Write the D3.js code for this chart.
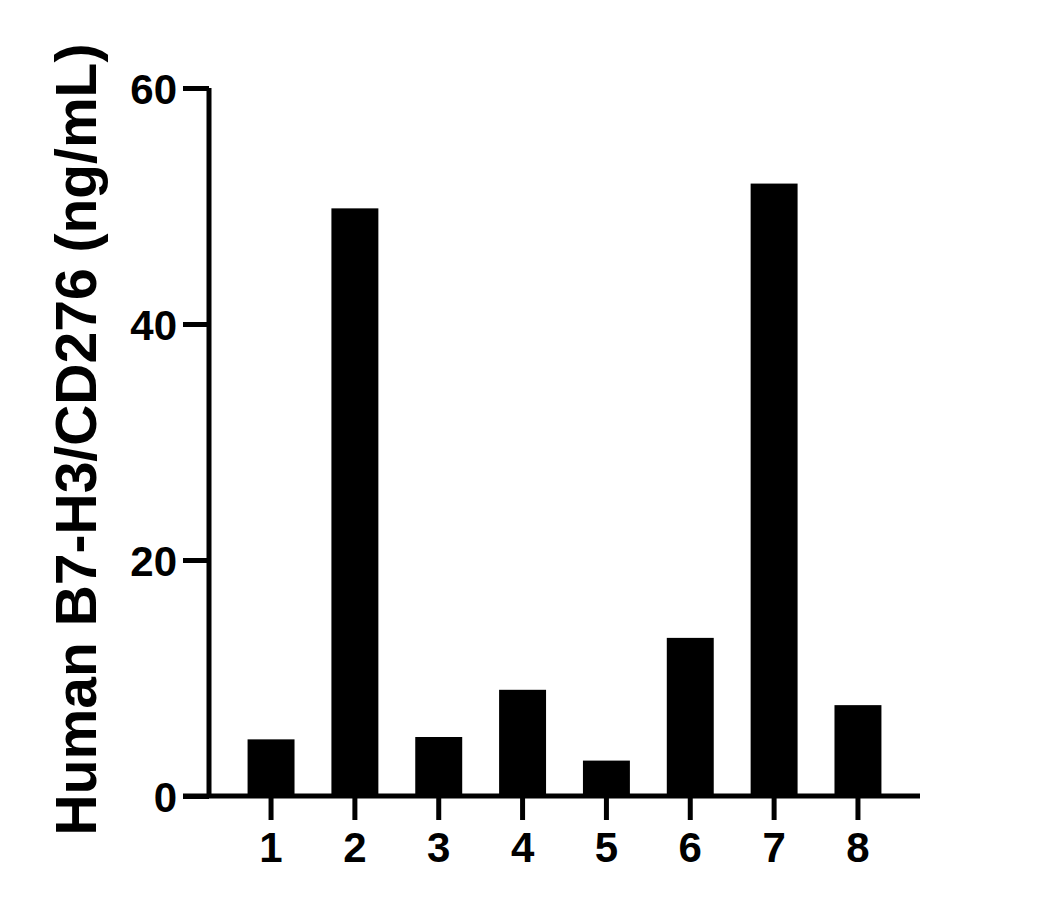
<!DOCTYPE html>
<html>
<head>
<meta charset="utf-8">
<script src="https://cdn.jsdelivr.net/npm/d3@7"></script>
<style>
  html, body { margin: 0; padding: 0; background: #fff; }
  svg { display: block; }
  text { font-family: "Liberation Sans", Arial, sans-serif; font-weight: bold; fill: #000; }
</style>
</head>
<body>
<script>
const categories = ["1", "2", "3", "4", "5", "6", "7", "8"];
const values = [4.8, 49.8, 5.0, 9.0, 3.0, 13.4, 51.9, 7.7];
const yTicks = [0, 20, 40, 60];
const yTitle = "Human B7-H3/CD276 (ng/mL)";

const W = 1055, H = 912;
const svg = d3.select("body").append("svg").attr("width", W).attr("height", H);

const x = d3.scaleBand().domain(categories).range([209, 920]).paddingInner(0.44).paddingOuter(0.46);
const y = d3.scaleLinear().domain([0, 60]).range([796, 88]);

// bars
svg.append("g").selectAll("rect").data(values).join("rect")
  .attr("x", (d, i) => x(categories[i]))
  .attr("y", d => y(d))
  .attr("width", x.bandwidth())
  .attr("height", d => y(0) - y(d))
  .attr("fill", "#000");

// y axis
const yAxis = svg.append("g").attr("transform", "translate(209,0)")
  .call(d3.axisLeft(y).tickValues(yTicks).tickSize(26).tickPadding(6).tickFormat(d3.format("d")));
yAxis.select(".domain").attr("stroke-width", 5).attr("d", `M0,${y(60)}V${y(0)}`);
yAxis.selectAll(".tick line").attr("stroke-width", 5);
yAxis.selectAll(".tick text").style("font-size", "42px").attr("dy", "0.36em");

// x axis
const xAxis = svg.append("g").attr("transform", `translate(0,${y(0)})`)
  .call(d3.axisBottom(x).tickSize(24).tickPadding(12));
xAxis.select(".domain").attr("stroke-width", 5).attr("d", `M183,0H920`);
xAxis.selectAll(".tick line").attr("stroke-width", 5);
xAxis.selectAll(".tick text").style("font-size", "42px");

// y title
svg.append("text")
  .attr("transform", `translate(96,${(45 + 834) / 2}) rotate(-90)`)
  .attr("text-anchor", "middle")
  .style("font-size", "57px")
  .text(yTitle);
</script>
</body>
</html>
